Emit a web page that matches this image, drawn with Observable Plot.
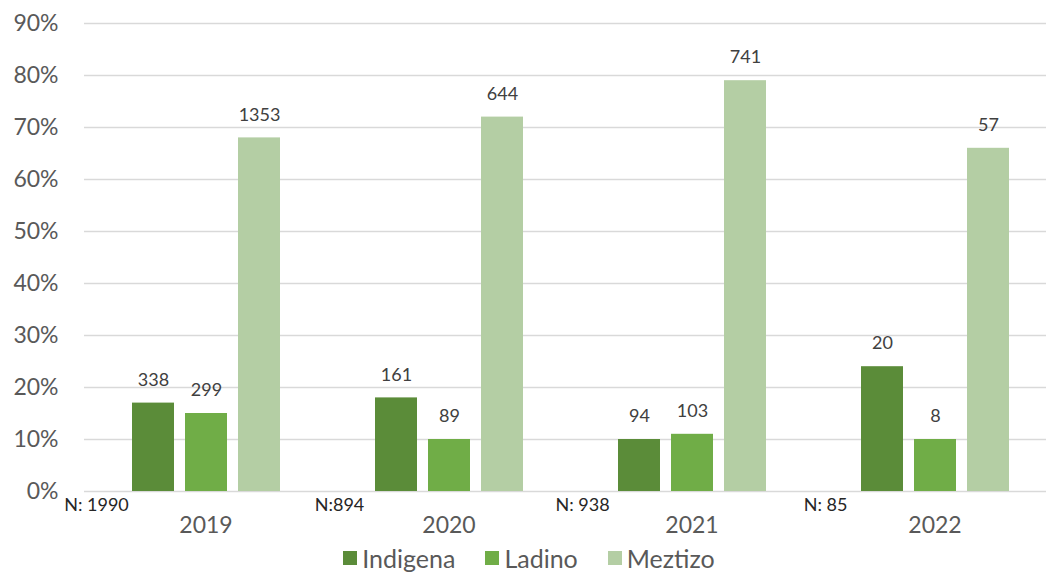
<!DOCTYPE html>
<html>
<head>
<meta charset="utf-8">
<script src="https://cdn.jsdelivr.net/npm/d3@7"></script>
<script src="https://cdn.jsdelivr.net/npm/@observablehq/plot@0.6"></script>
<style>
  html, body { margin: 0; padding: 0; background: #fff; }
  body { width: 1046px; height: 572px; overflow: hidden; font-family: Lato, "Open Sans", sans-serif; }
  #legend { display: flex; justify-content: center; align-items: center; gap: 30px; height: 24px; margin-left: 12px; font-size: 25px; line-height: 24px; color: #595959; }
  #legend .item { display: flex; align-items: center; gap: 5px; }
  #legend .sw { width: 14px; height: 14px; display: inline-block; }
</style>
</head>
<body>
<div id="chart"></div>
<div id="legend"></div>
<script>
const years = ["2019", "2020", "2021", "2022"];
const groups = ["Indigena", "Ladino", "Meztizo"];
const colors = ["#5B8C39", "#70AD47", "#B4CEA4"];
const pctIndigena = [17, 18, 10, 24];
const pctLadino = [15, 10, 11, 10];
const pctMeztizo = [68, 72, 79, 66];
const nIndigena = [338, 161, 94, 20];
const nLadino = [299, 89, 103, 8];
const nMeztizo = [1353, 644, 741, 57];
const totals = ["N: 1990", "N:894", "N: 938", "N: 85"];
const yTicks = [0, 10, 20, 30, 40, 50, 60, 70, 80, 90];

const pcts = [pctIndigena, pctLadino, pctMeztizo];
const counts = [nIndigena, nLadino, nMeztizo];
const rows = [];
years.forEach((yr, i) => {
  groups.forEach((g, j) => {
    rows.push({year: yr, group: g, pct: pcts[j][i] / 100, count: counts[j][i]});
  });
});
const totalRows = years.map((yr, i) => ({year: yr, label: totals[i]}));

const chart = Plot.plot({
  width: 1046,
  height: 546,
  marginTop: 23,
  marginBottom: 55,
  marginLeft: 84,
  marginRight: 0,
  style: {fontFamily: "Lato, 'Open Sans', sans-serif", color: "#595959", background: "#fff"},
  fx: {domain: years, range: [83.3, 1056.6], padding: 0, label: null},
  x: {domain: groups, paddingInner: 0.215, paddingOuter: 0.88, axis: null},
  y: {domain: [0, 0.9], label: null},
  color: {domain: groups, range: colors},
  marks: [
    Plot.gridY(yTicks.map(d => d / 100), {stroke: "#d9d9d9", strokeOpacity: 1, strokeWidth: 1.5}),
    Plot.axisY(yTicks.map(d => d / 100), {tickFormat: d => Math.round(d * 100) + "%", tickSize: 0, tickPadding: 26, fontSize: 23, fill: "#595959", label: null}),
    Plot.axisFx({anchor: "bottom", tickSize: 0, tickPadding: 25, fontSize: 23, fill: "#595959", label: null}),
    Plot.barY(rows, {fx: "year", x: "group", y: "pct", fill: "group"}),
    Plot.text(rows, {fx: "year", x: "group", y: "pct", text: d => String(d.count), dy: -23, fontSize: 18, fill: "#404040"}),
    Plot.text(totalRows, {fx: "year", text: "label", frameAnchor: "bottom-left", dx: 12, dy: 19, textAnchor: "middle", fontSize: 18, fill: "#262626"})
  ]
});
document.getElementById("chart").appendChild(chart);

const legend = document.getElementById("legend");
groups.forEach((g, i) => {
  const item = document.createElement("div");
  item.className = "item";
  const sw = document.createElement("span");
  sw.className = "sw";
  sw.style.background = colors[i];
  const t = document.createElement("span");
  t.textContent = g;
  item.appendChild(sw);
  item.appendChild(t);
  legend.appendChild(item);
});
</script>
</body>
</html>
